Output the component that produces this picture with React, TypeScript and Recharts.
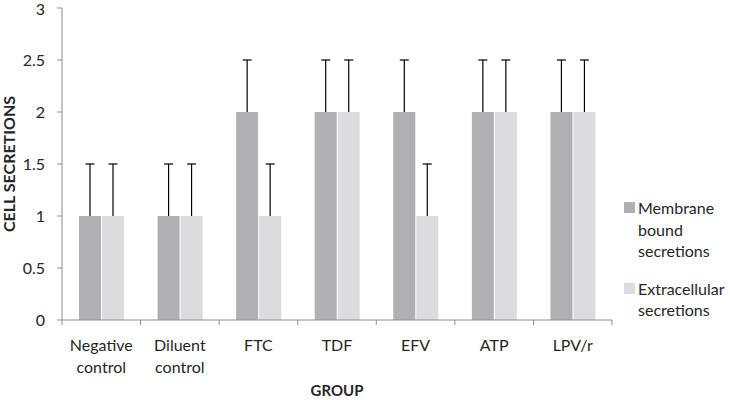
import React from "react";
import { BarChart, Bar, XAxis, YAxis } from "recharts";

const groups = ["Negative control", "Diluent control", "FTC", "TDF", "EFV", "ATP", "LPV/r"];
const membrane = [1, 1, 2, 2, 2, 2, 2];
const extracellular = [1, 1, 1, 2, 1, 2, 2];
const membraneErr = [0.5, 0.5, 0.5, 0.5, 0.5, 0.5, 0.5];
const extracellularErr = [0.5, 0.5, 0.5, 0.5, 0.5, 0.5, 0.5];
const yTicks = [0, 0.5, 1, 1.5, 2, 2.5, 3];

const seriesNames = ["Membrane bound secretions", "Extracellular secretions"];
const seriesColors = ["#b0b0b2", "#dcdcde"];

const data = groups.map((g, i) => ({
  group: g,
  membrane: membrane[i],
  membraneErr: membraneErr[i],
  extracellular: extracellular[i],
  extracellularErr: extracellularErr[i],
}));

const FONT = "Lato, 'Open Sans', sans-serif";
const AXIS = "#8e8e8e";
const TEXT = "#262626";

// error whisker drawn as an invisible stacked segment: stem + top cap only
const Whisker = (props: any) => {
  const { x, y, width, height } = props;
  const cx = x + width / 2;
  return (
    <g>
      <line x1={cx} x2={cx} y1={y} y2={y + height} stroke="#000" strokeWidth={1.2} />
      <line x1={cx - 4.5} x2={cx + 4.5} y1={y} y2={y} stroke="#000" strokeWidth={1.2} />
    </g>
  );
};

const CategoryTick = (props: any) => {
  const { x, y, payload, index, width, visibleTicksCount } = props;
  const bw = width && visibleTicksCount ? width / visibleTicksCount : 550 / 7;
  const words = String(payload.value).split(" ");
  return (
    <g>
      <line x1={x - bw / 2} x2={x - bw / 2} y1={y} y2={y + 5} stroke={AXIS} />
      {index === groups.length - 1 && (
        <line x1={x + bw / 2} x2={x + bw / 2} y1={y} y2={y + 5} stroke={AXIS} />
      )}
      {words.map((w, i) => (
        <text
          key={i}
          x={x}
          y={y + 31 + i * 22}
          textAnchor="middle"
          fontFamily={FONT}
          fontSize={16}
          fill={TEXT}
        >
          {w}
        </text>
      ))}
    </g>
  );
};

const LegendBox = () => (
  <div
    style={{
      position: "absolute",
      left: 624,
      top: 197,
      fontFamily: FONT,
      fontSize: 16,
      color: TEXT,
    }}
  >
    {seriesNames.map((name, i) => (
      <div key={name} style={{ display: "flex", alignItems: "flex-start", marginBottom: 16 }}>
        <div
          style={{
            width: 11,
            height: 11,
            background: seriesColors[i],
            marginTop: 5,
            marginRight: 3,
            flex: "none",
          }}
        />
        <div style={{ lineHeight: "21.5px" }}>
          {name.split(" ").map((w) => (
            <div key={w}>{w}</div>
          ))}
        </div>
      </div>
    ))}
  </div>
);

export default function App() {
  return (
    <div style={{ position: "absolute", left: 0, top: 0, width: 730, height: 400, background: "#fff" }}>
      <BarChart
        width={730}
        height={400}
        data={data}
        margin={{ top: 8, right: 118, left: 0, bottom: 0 }}
        barCategoryGap={17}
        barGap={1}
      >
        <XAxis
          dataKey="group"
          height={80}
          stroke={AXIS}
          tickLine={false}
          tickSize={0}
          tickMargin={0}
          interval={0}
          tick={<CategoryTick />}
          label={{
            value: "GROUP",
            position: "insideBottom",
            offset: 4,
            style: { fontFamily: FONT, fontSize: 15, fontWeight: 700, fill: TEXT },
          }}
        />
        <YAxis
          width={62}
          domain={[0, 3]}
          ticks={yTicks}
          stroke={AXIS}
          tickSize={5}
          tickMargin={12}
          tick={{ fontFamily: FONT, fontSize: 16, fill: TEXT }}
          label={{
            content: ({ viewBox }: any) => {
              const cx = (viewBox?.x ?? 0) + 8;
              const cy = (viewBox?.y ?? 8) + (viewBox?.height ?? 312) / 2;
              return (
                <text
                  x={cx}
                  y={cy}
                  transform={`rotate(-90 ${cx} ${cy})`}
                  textAnchor="middle"
                  dominantBaseline="central"
                  fontFamily={FONT}
                  fontSize={16}
                  fontWeight={700}
                  fill={TEXT}
                >
                  CELL SECRETIONS
                </text>
              );
            },
          }}
        />
        <Bar dataKey="membrane" name={seriesNames[0]} stackId="m" fill={seriesColors[0]} isAnimationActive={false} />
        <Bar dataKey="membraneErr" stackId="m" fill="none" legendType="none" shape={<Whisker />} isAnimationActive={false} />
        <Bar dataKey="extracellular" name={seriesNames[1]} stackId="e" fill={seriesColors[1]} isAnimationActive={false} />
        <Bar dataKey="extracellularErr" stackId="e" fill="none" legendType="none" shape={<Whisker />} isAnimationActive={false} />
      </BarChart>
      <LegendBox />
    </div>
  );
}
